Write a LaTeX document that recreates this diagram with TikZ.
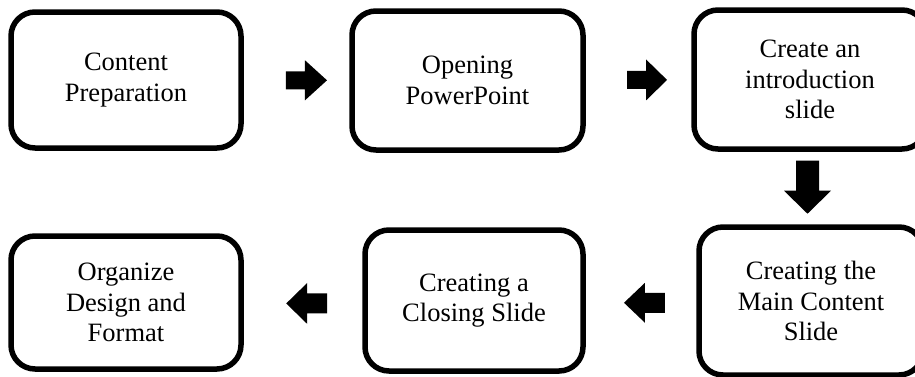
\documentclass[tikz,border=0pt]{standalone}
\usepackage{fontspec}
\setmainfont{Liberation Serif}
\usetikzlibrary{calc}

% Solid block arrow: #1 centre, #2 rotation, #3 total length,
% #4 head width, #5 shaft width, #6 head length
\newcommand\BlockArrow[6]{%
  \begin{scope}[shift={#1}, rotate=#2]
    \fill[black] (-#3/2,-#5/2) -- (#3/2-#6,-#5/2) -- (#3/2-#6,-#4/2)
      -- (#3/2,0) -- (#3/2-#6,#4/2) -- (#3/2-#6,#5/2) -- (-#3/2,#5/2) -- cycle;
  \end{scope}}

\begin{document}
\begin{tikzpicture}[x=1pt, y=-1pt,
  stepbox/.style={draw=black, line width=5.5pt, rounded corners=24pt,
    fill=white, align=center, inner sep=0pt, outer sep=0pt,
    font=\fontsize{26.5}{30.5}\selectfont},
]
\useasboundingbox (0,0) rectangle (915,376);
\clip (0,0) rectangle (915,376);
\fill[white] (0,0) rectangle (915,376);

% process steps, top row left to right, bottom row right to left
\node[stepbox, minimum width=230pt, minimum height=136pt] (b1) at (126,80)
  {Content\\Preparation};
\node[stepbox, minimum width=231pt, minimum height=139pt] (b2) at (467.5,80.5)
  {Opening\\PowerPoint};
\node[stepbox, minimum width=232pt, minimum height=139pt] (b3) at (810,79.5)
  {Create an\\introduction\\slide};
\node[stepbox, minimum width=224pt, minimum height=148pt] (b4) at (811,301)
  {Creating the\\Main Content\\Slide};
\node[stepbox, minimum width=218pt, minimum height=141pt] (b5) at (474,300.5)
  {Creating a\\Closing Slide};
\node[stepbox, minimum width=230pt, minimum height=133pt] (b6) at (126,302.5)
  {Organize\\Design and\\Format};

% arrows between the steps
\coordinate (a12) at ($(b1.east)!0.59!(b2.west)$);
\coordinate (a23) at ($(b2.east)!0.577!(b3.west)$);
\coordinate (a34) at ($(b3.south)!0.49!(b4.north) + (-3,0)$);
\coordinate (a45) at ($(b4.west)!0.47!(b5.east) + (0,2)$);
\coordinate (a56) at ($(b5.west)!0.47!(b6.east) + (0,2)$);

\BlockArrow{(a12)}{0}{41}{40}{18}{22}
\BlockArrow{(a23)}{0}{40}{41}{18}{21}
\BlockArrow{(a34)}{-90}{53}{47}{23}{23}
\BlockArrow{(a45)}{180}{41}{40}{20}{21}
\BlockArrow{(a56)}{180}{41}{41}{20}{21}
\end{tikzpicture}
\end{document}
